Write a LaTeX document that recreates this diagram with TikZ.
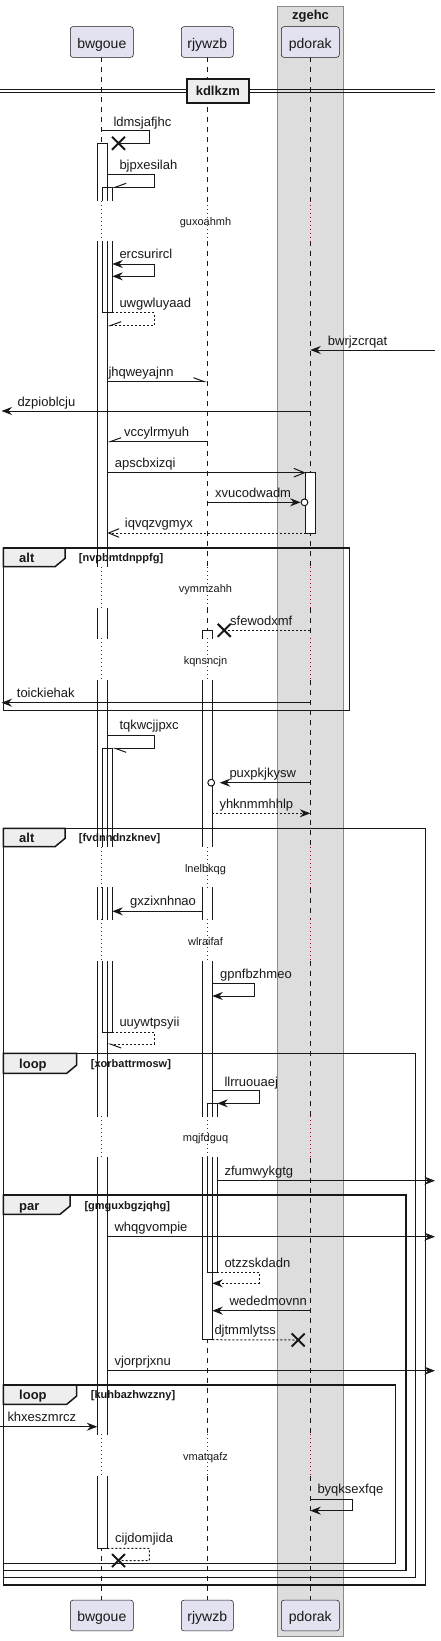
\documentclass[tikz,border=0pt]{standalone}
\usepackage{fontspec}
\setmainfont{Liberation Sans}
\usetikzlibrary{arrows.meta,shapes.misc}
\definecolor{ink}{HTML}{181818}
\definecolor{partfill}{HTML}{E2E2F0}
\definecolor{boxfill}{HTML}{DDDDDD}
\definecolor{boxline}{HTML}{8A8A8A}
\definecolor{tabfill}{HTML}{EEEEEE}
\definecolor{delayc}{HTML}{A80036}
\newcommand\fmsg{\fontsize{13}{15}\selectfont}
\newcommand\fdel{\fontsize{11}{13}\selectfont}
\newcommand\fcond{\bfseries\fontsize{11}{13}\selectfont}
\newcommand\ftab{\bfseries\fontsize{13}{15}\selectfont}
\newcommand\fpart{\fontsize{14}{16}\selectfont}
\def\myactsegs{97.3/143.3/200.7, 97.3/241/566.7, 97.3/608.3/638.3, 97.3/680/846.7, 97.3/887.7/919, 97.3/961/1116, 97.3/1157.7/1434.3, 97.3/1476/1548.3, 102.3/187.3/200.7, 102.3/241/312.7, 102.3/748.3/846.7, 102.3/887.7/919, 102.3/961/1032.3, 202.3/630.3/638.3, 202.3/680/846.7, 202.3/887.7/919, 202.3/961/1116, 202.3/1157.7/1339.7, 207.3/1103.3/1116, 207.3/1157.7/1272.3, 305.7/472.7/533}
\begin{document}
\begin{tikzpicture}[x=1pt,y=-1pt,
  msg/.style={draw=ink, line width=1pt},
  ret/.style={dash pattern=on 2pt off 2pt},
  sarrow/.style={-{Stealth[length=10.5pt,width=8pt,inset=3.5pt]}},
  bothhead/.style={{Stealth[length=10.5pt,width=8pt,inset=3.5pt]}-{Stealth[length=10.5pt,width=8pt,inset=3.5pt]}},
  oarrow/.style={-{Straight Barb[length=10.5pt,width=8.6pt]}},
  hl/.style={-{Straight Barb[length=11pt,width=8pt,left]}},
  hr/.style={-{Straight Barb[length=11pt,width=8pt,right]}},
  lbl/.style={anchor=base west, inner sep=0pt, font=\fmsg, text=ink},
  dtext/.style={anchor=base, inner sep=0pt, font=\fdel, text=ink},
  tablbl/.style={anchor=base west, inner sep=0pt, font=\ftab, text=ink},
  condlbl/.style={anchor=base west, inner sep=0pt, font=\fcond, text=ink},
  part/.style={draw=ink, line width=0.5pt, fill=partfill, rounded corners=2.5pt, inner sep=0pt, font=\fpart, text=ink, text height=12.6pt, text depth=0pt, minimum height=30.6pt},
  lifeline/.style={draw=ink, line width=0.5pt, dash pattern=on 5pt off 5pt},
  delayline/.style={draw=delayc, line width=1pt, dash pattern=on 1pt off 3pt},
  actline/.style={draw=ink, line width=1pt, line cap=rect},
  frameline/.style={draw=ink, line width=1.5pt},
  xmark/.style={cross out, draw=ink, line width=2pt, minimum size=11pt, inner sep=0pt},
  circ/.style={circle, draw=ink, fill=white, line width=1pt, minimum size=6.8pt, inner sep=0pt}
]
\useasboundingbox (0,0) rectangle (441,1641);
% box
\draw[fill=boxfill, draw=boxline, line width=1pt] (277.7,6) rectangle (343.3,1636);
\node[anchor=base, inner sep=0pt, font=\ftab, text=ink] (zg) at (310.5,19) {zgehc};
% lifelines
\foreach \lx in {101.3,207.3,310.3} {
  \foreach \a/\b in {57.3/200.7, 241/566.7, 608.3/638.3, 680/846.7, 887.7/919, 961/1116, 1157.7/1434.3, 1476/1600}
    \draw[lifeline] (\lx,\a) -- (\lx,\b);
  \foreach \a/\b in {200.7/241, 566.7/608.3, 638.3/680, 846.7/887.7, 919/961, 1116/1157.7, 1434.3/1476}
    \draw[delayline] (\lx,\a) -- (\lx,\b);
}
% participants
\node[part, minimum width=63pt] (bwT) at (101.8,42) {bwgoue};
\node[part, minimum width=52pt] (rjT) at (207.3,42) {rjywzb};
\node[part, minimum width=58pt] (pdT) at (310.3,42) {pdorak};
\node[part, minimum width=63pt] (bwB) at (101.8,1615.5) {bwgoue};
\node[part, minimum width=52pt] (rjB) at (207.3,1615.5) {rjywzb};
\node[part, minimum width=58pt] (pdB) at (310.3,1615.5) {pdorak};
% divider
\draw[ink, line width=1pt] (0,89.3) -- (435,89.3) (0,92.7) -- (435,92.7);
\node[draw=ink, fill=tabfill, line width=2pt, minimum width=62.3pt, minimum height=24.6pt, inner sep=0pt, font=\ftab, text=ink, text height=9.5pt, text depth=1.5pt] (div) at (217.85,91) {kdlkzm};
% activation fills
\foreach \xl/\a/\b in \myactsegs { \fill[white] (\xl,\a) rectangle (\xl+10,\b); }
% frames
\draw[frameline] (3.3,548) rectangle (349.7,710.7);
\filldraw[frameline, fill=tabfill] (3.3,548) -- (65,548) -- (65,558.4) -- (55,566.7) -- (3.3,566.7) -- cycle;
\node[tablbl] (t1) at (19,562.7) {alt};
\node[condlbl] (k1) at (78.7,561.5) {[nvpbmtdnppfg]};

\draw[frameline] (3.3,828.3) rectangle (425.7,1585);
\filldraw[frameline, fill=tabfill] (3.3,828.3) -- (65,828.3) -- (65,838.4) -- (55,846.7) -- (3.3,846.7) -- cycle;
\node[tablbl] (t2) at (19,842.7) {alt};
\node[condlbl] (k2) at (78.7,841.6) {[fvdnndnzknev]};

\draw[frameline] (3.3,1053.3) rectangle (415.7,1577.7);
\filldraw[frameline, fill=tabfill] (3.3,1053.3) -- (76.7,1053.3) -- (76.7,1065) -- (66.7,1073.3) -- (3.3,1073.3) -- cycle;
\node[tablbl] (t3) at (19,1068.3) {loop};
\node[condlbl] (k3) at (90.7,1067.7) {[xorbattrmosw]};

\draw[frameline] (3.3,1195) rectangle (406,1570.7);
\filldraw[frameline, fill=tabfill] (3.3,1195) -- (70,1195) -- (70,1206) -- (60,1214.3) -- (3.3,1214.3) -- cycle;
\node[tablbl] (t4) at (19,1210) {par};
\node[condlbl] (k4) at (84.3,1209.3) {[gmguxbgzjqhg]};

\draw[frameline] (3.3,1385) rectangle (395.7,1563.3);
\filldraw[frameline, fill=tabfill] (3.3,1385) -- (76.7,1385) -- (76.7,1396) -- (66.7,1404.3) -- (3.3,1404.3) -- cycle;
\node[tablbl] (t5) at (19,1399.3) {loop};
\node[condlbl] (k5) at (90.7,1398.5) {[kuhbazhwzzny]};
% activation borders
\foreach \xl/\a/\b in \myactsegs { \draw[actline] (\xl,\a) -- (\xl,\b) (\xl+10,\a) -- (\xl+10,\b); }
\foreach \xl/\y in {97.3/143.3, 97.3/1548.3, 102.3/187.3, 102.3/312.7, 102.3/748.3, 102.3/1032.3, 202.3/630.3, 202.3/1339.7, 207.3/1103.3, 207.3/1272.3, 305.7/472.7, 305.7/533}
  { \draw[actline] (\xl,\y) -- (\xl+10,\y); }
% delay texts
\node[dtext] (d1) at (205.5,225) {guxoahmh};
\node[dtext] (d2) at (205.5,592) {vymmzahh};
\node[dtext] (d3) at (205.5,664.2) {kqnsncjn};
\node[dtext] (d4) at (205.5,872.8) {lnelbkqg};
\node[dtext] (d5) at (205.5,945.2) {wlraifaf};
\node[dtext] (d6) at (205.5,1141.8) {mqjfdguq};
\node[dtext] (d7) at (205.5,1460.2) {vmatqafz};
% messages
\node[xmark] (x1) at (118.5,143.3) {};
\draw[msg] (101.3,130) -- (149.3,130) -- (149.3,143.3) -- (x1.center);
\node[lbl] (m1) at (113.3,126) {ldmsjafjhc};

\draw[msg, hr] (107.3,174.3) -- (154.3,174.3) -- (154.3,187.3) -- (112.3,187.3);
\node[lbl] (m2) at (119.3,169) {bjpxesilah};

\draw[msg, bothhead] (112.3,264) -- (154.3,264) -- (154.3,276.3) -- (112.3,276.3);
\node[lbl] (m3) at (119.3,258.5) {ercsurircl};

\draw[msg, ret, hr] (112.3,312.7) -- (154.3,312.7) -- (154.3,325.7) -- (107.3,325.7);
\node[lbl] (m4) at (119.3,307.5) {uwgwluyaad};

\draw[msg, sarrow] (435,350) -- (310.3,350);
\node[lbl] (m5) at (327.7,345.3) {bwrjzcrqat};

\draw[msg, hl] (107.3,381.7) -- (207.3,381.7);
\node[lbl] (m6) at (108.3,376.3) {jhqweyajnn};

\draw[msg, sarrow] (310.3,411) -- (1.5,411);
\node[lbl] (m7) at (17.3,406) {dzpioblcju};

\draw[msg, hr] (207.3,441.7) -- (107.3,441.7);
\node[lbl] (m8) at (124,436.7) {vccylrmyuh};

\draw[msg, oarrow] (107.3,472.7) -- (305.7,472.7);
\node[lbl] (m9) at (114.7,467.2) {apscbxizqi};

\node[circ] (c1) at (304.5,502.3) {};
\draw[msg, sarrow] (207.3,502.3) -- (c1.west);
\node[lbl] (m10) at (215,497.5) {xvucodwadm};

\draw[msg, ret, oarrow] (305.7,533) -- (107.3,533);
\node[lbl] (m11) at (124.7,527.3) {iqvqzvgmyx};

\node[xmark] (x2) at (224.2,630.3) {};
\draw[msg, ret] (310.3,630.3) -- (x2.center);
\node[lbl] (m12) at (230,625.7) {sfewodxmf};

\draw[msg, sarrow] (310.3,702.7) -- (1.5,702.7);
\node[lbl] (m13) at (16.7,697.3) {toickiehak};

\draw[msg, hl] (107.3,735.7) -- (154.3,735.7) -- (154.3,748.3) -- (112.3,748.3);
\node[lbl] (m14) at (119.3,729.7) {tqkwcjjpxc};

\node[circ] (c2) at (211.2,782.7) {};
\draw[msg, sarrow] (310.3,782.7) -- (219.7,782.7);
\node[lbl] (m15) at (229.3,777.7) {puxpkjkysw};

\draw[msg, ret, sarrow] (212.3,813.3) -- (310.3,813.3);
\node[lbl] (m16) at (219.3,808.3) {yhknmmhhlp};

\draw[msg, sarrow] (202.3,911.3) -- (112.3,911.3);
\node[lbl] (m17) at (130,905.8) {gxzixnhnao};

\draw[msg, sarrow] (212.3,983.3) -- (254.3,983.3) -- (254.3,996) -- (212.3,996);
\node[lbl] (m18) at (220,978.3) {gpnfbzhmeo};

\draw[msg, ret, hl] (112.3,1032.3) -- (154.3,1032.3) -- (154.3,1044) -- (107.3,1044);
\node[lbl] (m19) at (119.3,1026.8) {uuywtpsyii};

\draw[msg, sarrow] (212.3,1090.7) -- (259.3,1090.7) -- (259.3,1103.3) -- (217.3,1103.3);
\node[lbl] (m20) at (224.3,1086) {llrruouaej};

\draw[msg, sarrow] (217.3,1180.7) -- (435,1180.7);
\node[lbl] (m21) at (224.3,1175.5) {zfumwykgtg};

\draw[msg, sarrow] (107.3,1236.7) -- (435,1236.7);
\node[lbl] (m22) at (114.3,1231.6) {whqgvompie};

\draw[msg, ret, sarrow] (217.3,1272.3) -- (259.3,1272.3) -- (259.3,1283.3) -- (212.3,1283.3);
\node[lbl] (m23) at (224.3,1267.3) {otzzskdadn};

\draw[msg, sarrow] (310.3,1310.7) -- (212.3,1310.7);
\node[lbl] (m24) at (229.3,1305.5) {wededmovnn};

\node[xmark] (x3) at (298.2,1340) {};
\draw[msg, ret] (212.3,1339.7) -- (x3.center);
\node[lbl] (m25) at (214.3,1334.8) {djtmmlytss};

\draw[msg, sarrow] (107.3,1370.7) -- (435,1370.7);
\node[lbl] (m26) at (114.3,1365.5) {vjorprjxnu};

\draw[msg, sarrow] (0,1426.7) -- (97.3,1426.7);
\node[lbl] (m27) at (7.3,1421.3) {khxeszmrcz};

\draw[msg, sarrow] (310.3,1499) -- (352.3,1499) -- (352.3,1510.7) -- (310.3,1510.7);
\node[lbl] (m28) at (317.3,1493.8) {byqksexfqe};

\node[xmark] (x4) at (118.5,1560.5) {};
\draw[msg, ret] (107.3,1548.3) -- (149.3,1548.3) -- (149.3,1560.7) -- (x4.center);
\node[lbl] (m29) at (115,1542.3) {cijdomjida};
\end{tikzpicture}
\end{document}
